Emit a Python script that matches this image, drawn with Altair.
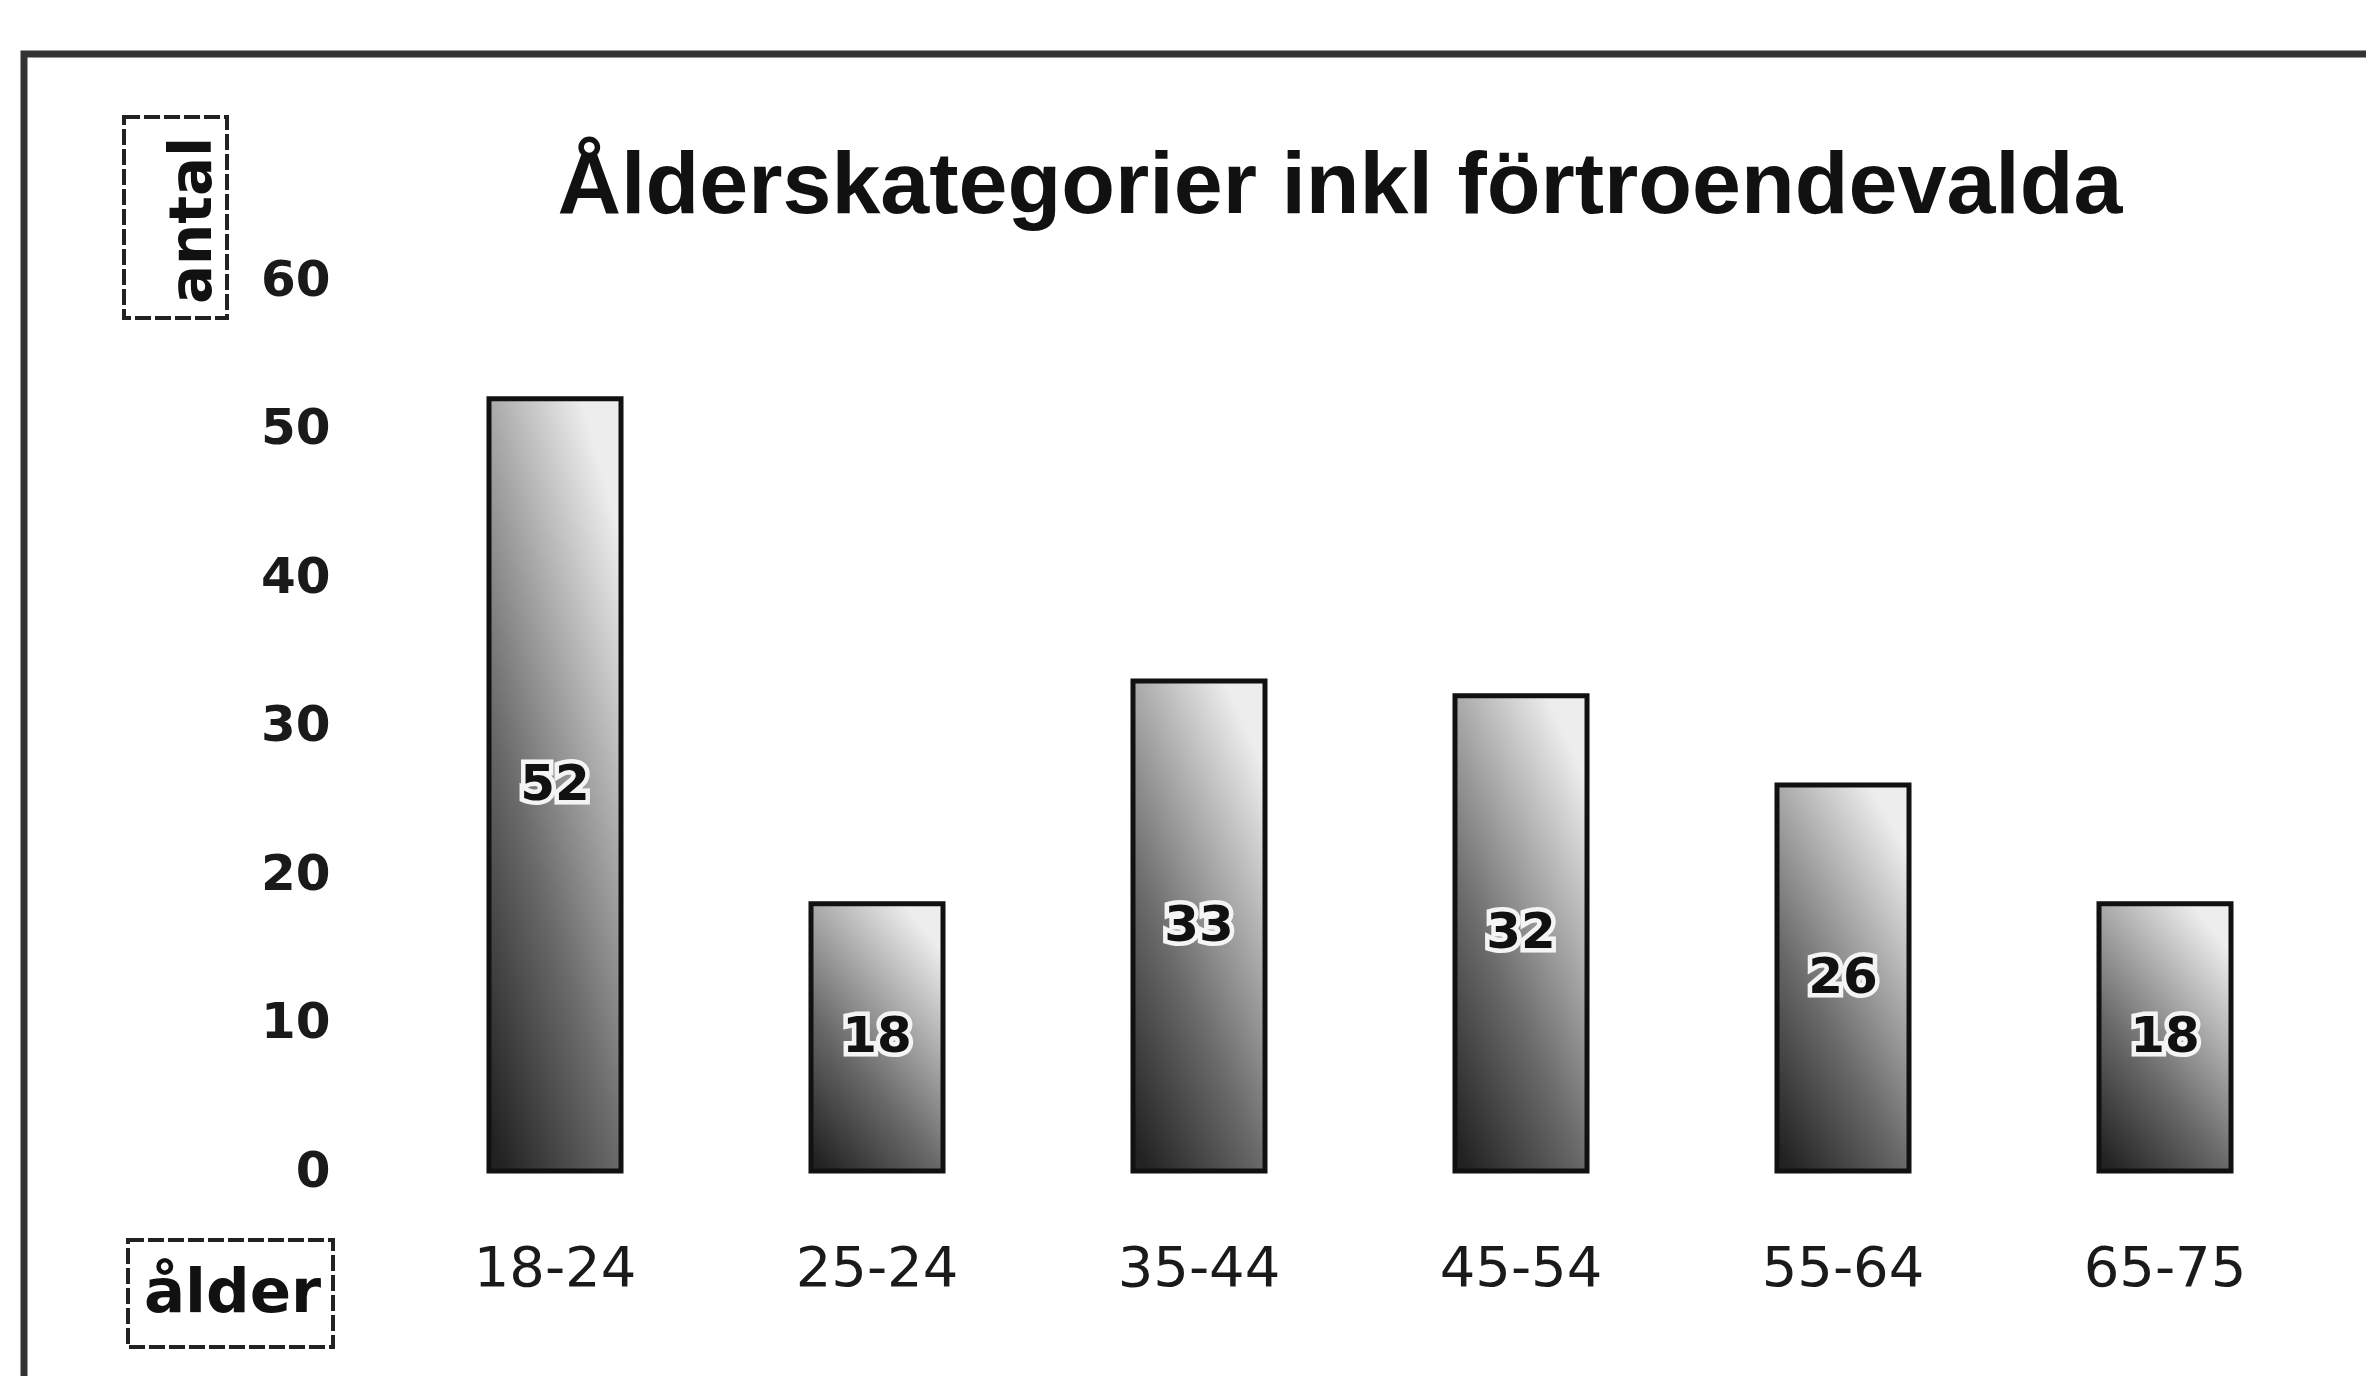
import altair as alt
import pandas as pd

# ---- data ----
categories = ["18-24", "25-24", "35-44", "45-54", "55-64", "65-75"]
values = [52, 18, 33, 32, 26, 18]
y_ticks = [0, 10, 20, 30, 40, 50, 60]
title_text = "Ålderskategorier inkl förtroendevalda"
x_title = "ålder"
y_title = "antal"

df = pd.DataFrame({"kategori": categories, "antal": values})
df["mitt"] = df["antal"] / 2
deco = pd.DataFrame({"k": [0]})
title_df = pd.DataFrame({"t": [title_text]})

W, H = 1932, 891

x_enc = alt.X(
    "kategori:N",
    sort=categories,
    scale=alt.Scale(paddingInner=0.59, paddingOuter=0.295),
    axis=alt.Axis(
        title=x_title,
        labelAngle=0,
        labelFont="DejaVu Sans",
        labelFontSize=56,
        labelColor="#1a1a1a",
        labelPadding=70,
        ticks=False,
        tickSize=0,
        domain=False,
        grid=False,
        titleFont="DejaVu Sans",
        titleFontSize=61,
        titleFontWeight="bold",
        titleColor="#111111",
        titleX=-162,
        titleY=140,
        titleAlign="center",
        titleBaseline="alphabetic",
    ),
)
y_enc = alt.Y(
    "antal:Q",
    scale=alt.Scale(domain=[0, 60], nice=False),
    axis=alt.Axis(
        title=y_title,
        values=y_ticks,
        labelFont="DejaVu Sans",
        labelFontSize=50,
        labelFontWeight="bold",
        labelColor="#1a1a1a",
        labelPadding=64,
        ticks=False,
        tickSize=0,
        domain=False,
        grid=False,
        titleFont="DejaVu Sans",
        titleFontSize=58,
        titleFontWeight="bold",
        titleColor="#111111",
        titleAngle=270,
        titleX=-184,
        titleY=-60,
        titleAlign="center",
        titleBaseline="alphabetic",
    ),
)

grad = alt.Gradient(
    gradient="linear",
    stops=[
        alt.GradientStop(color="#222222", offset=0),
        alt.GradientStop(color="#6a6a6a", offset=0.4),
        alt.GradientStop(color="#ededed", offset=1),
    ],
    x1=0.1, y1=1, x2=0.7, y2=0,
)

bars = alt.Chart(df).mark_bar(
    color=grad, stroke="#111111", strokeWidth=5
).encode(x=x_enc, y=y_enc)

halo = alt.Chart(df).mark_text(
    font="DejaVu Sans", fontSize=50, fontWeight="bold",
    color="#f4f4f4", stroke="#f4f4f4", strokeWidth=9, baseline="middle"
).encode(x=alt.X("kategori:N", sort=categories), y=alt.Y("mitt:Q"), text="antal:Q")

labels = alt.Chart(df).mark_text(
    font="DejaVu Sans", fontSize=50, fontWeight="bold",
    color="#111111", baseline="middle"
).encode(x=alt.X("kategori:N", sort=categories), y=alt.Y("mitt:Q"), text="antal:Q")

title = alt.Chart(title_df).mark_text(
    font="Liberation Sans", fontSize=88, fontWeight="bold",
    color="#111111", align="center", baseline="alphabetic"
).encode(x=alt.value(946), y=alt.value(-67), text="t:N")

frame = alt.Chart(deco).mark_rect(
    fillOpacity=0, stroke="#333333", strokeWidth=7
).encode(
    x=alt.value(-370), x2=alt.value(W + 200),
    y=alt.value(-226), y2=alt.value(H + 400),
)

box_y = alt.Chart(deco).mark_rect(
    fillOpacity=0, stroke="#222222", strokeWidth=4, strokeDash=[16, 4]
).encode(
    x=alt.value(-270), x2=alt.value(-167),
    y=alt.value(-163), y2=alt.value(38),
)

box_x = alt.Chart(deco).mark_rect(
    fillOpacity=0, stroke="#222222", strokeWidth=4, strokeDash=[16, 4]
).encode(
    x=alt.value(-266), x2=alt.value(-61),
    y=alt.value(960), y2=alt.value(1067),
)

chart = alt.layer(frame, box_y, box_x, bars, halo, labels, title).properties(
    width=W,
    height=H,
    autosize=alt.AutoSizeParams(type="none"),
    padding={"left": 386, "top": 272, "right": 40, "bottom": 205},
).configure(background="white").configure_view(strokeWidth=0, stroke="transparent")

chart.save("out.html", embed_options={"renderer": "svg", "actions": False})
